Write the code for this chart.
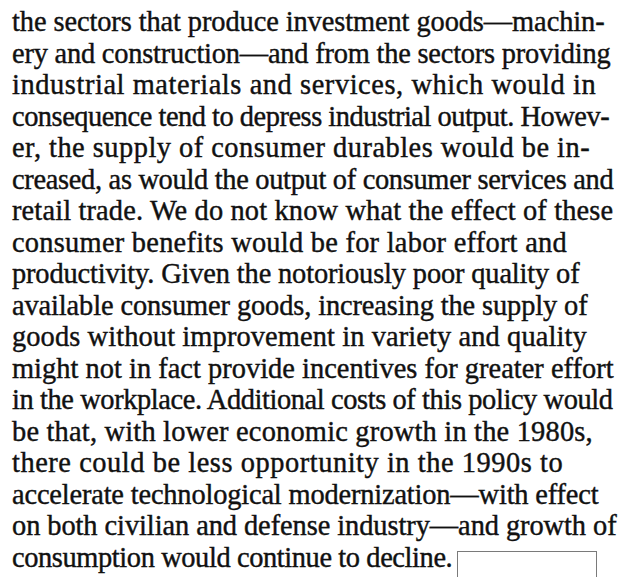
<!DOCTYPE html>
<html>
<head>
<meta charset="utf-8">
<script src="https://cdn.jsdelivr.net/npm/chart.js@4.4.1/dist/chart.umd.min.js"></script>
<style>
  html, body { margin: 0; padding: 0; background: #fff; }
  #page { position: relative; width: 619px; height: 577px; overflow: hidden; }
  .line {
    position: absolute;
    left: 12px;
    white-space: nowrap;
    font-family: "Liberation Serif", "Times New Roman", serif;
    color: #111;
    -webkit-text-stroke: 0.4px #111;
  }
  #box {
    position: absolute;
    border: 1px solid #7a7a7a;
    background: #fff;
  }
</style>
</head>
<body>
<div id="page"></div>
<script>
// the paragraph, one entry per printed line
const lines = [
  "the sectors that produce investment goods\u2014machin-",
  "ery and construction\u2014and from the sectors providing",
  "industrial materials and services, which would in",
  "consequence tend to depress industrial output. Howev-",
  "er, the supply of consumer durables would be in-",
  "creased, as would the output of consumer services and",
  "retail trade. We do not know what the effect of these",
  "consumer benefits would be for labor effort and",
  "productivity. Given the notoriously poor quality of",
  "available consumer goods, increasing the supply of",
  "goods without improvement in variety and quality",
  "might not in fact provide incentives for greater effort",
  "in the workplace. Additional costs of this policy would",
  "be that, with lower economic growth in the 1980s,",
  "there could be less opportunity in the 1990s to",
  "accelerate technological modernization\u2014with effect",
  "on both civilian and defense industry\u2014and growth of",
  "consumption would continue to decline."
];

// layout: where each printed line ends on the page (ragged right)
const lineRightEdge = [605, 611, 596, 610, 590, 614, 614, 567, 580,
                       588, 587, 614, 615, 593, 563, 599, 617, 453];

const leftMargin = 12;
const firstBaseline = 32;
const lineStep = 31.5;
const fontFamily = '"Liberation Serif", "Times New Roman", serif';

const page = document.getElementById('page');
const ctx = document.createElement('canvas').getContext('2d');
ctx.font = '100px ' + fontFamily;
const natural = lines.map(t => ctx.measureText(t).width / 100);

// one font size for the whole paragraph, close to the average line fit
let ratioSum = 0;
lines.forEach((t, i) => { ratioSum += (lineRightEdge[i] - leftMargin) / natural[i]; });
const fs = ratioSum / lines.length;
const ascent = 0.891 * fs;
const lh = fs * 1.15;
const halfLead = (lh - fs * 1.107) / 2;

lines.forEach((text, i) => {
  const div = document.createElement('div');
  div.className = 'line';
  div.textContent = text;
  div.style.fontSize = fs + 'px';
  div.style.lineHeight = lh + 'px';
  const spare = (lineRightEdge[i] - leftMargin) - natural[i] * fs;
  div.style.letterSpacing = (spare / (text.length - 1)) + 'px';
  div.style.top = (firstBaseline + i * lineStep - ascent - halfLead) + 'px';
  div.style.left = leftMargin + 'px';
  page.appendChild(div);
});

const box = document.createElement('div');
box.id = 'box';
box.style.left = '457px';
box.style.top = '551px';
box.style.width = '138px';
box.style.height = '40px';
page.appendChild(box);
</script>
</body>
</html>
